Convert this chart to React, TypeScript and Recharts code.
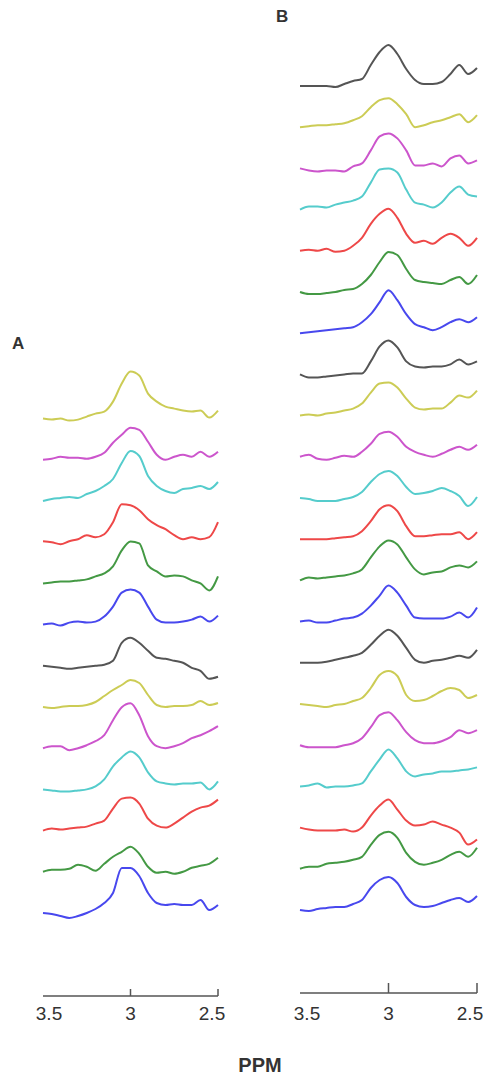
import React from 'react';
import { LineChart, Line, XAxis, YAxis } from 'recharts';

// chemical shift samples, left to right (3.5 -> 2.5 ppm)
const PPM = [3.5, 3.45, 3.4, 3.35, 3.3, 3.25, 3.2, 3.15, 3.1, 3.05, 3.0, 2.95, 2.9, 2.85, 2.8, 2.75, 2.7, 2.65, 2.6, 2.55, 2.5];
const TICKS = [3.5, 3, 2.5];
const TICK_LABELS = ['3.5', '3', '2.5'];

// panel A spectra, top to bottom (intensity above each trace's own baseline)
const A1 = [0, -1, 0, -2, -1, 2, 5, 7, 17, 35, 47, 43, 25, 17, 12, 10, 8, 7, 8, 1, 8];
const A2 = [0, 1, 3, 2, 2, 1, 3, 7, 17, 25, 32, 30, 18, 5, 0, 3, 5, 3, 8, 3, 8];
const A3 = [0, 2, 3, 4, 3, 7, 10, 15, 22, 38, 50, 45, 25, 15, 10, 8, 12, 13, 15, 12, 19];
const A4 = [1, 0, -2, 1, 3, 7, 5, 8, 20, 38, 37, 32, 23, 17, 13, 7, 3, 5, 3, 5, 20];
const A5 = [0, 1, 2, 2, 3, 4, 7, 10, 17, 33, 42, 40, 18, 12, 7, 8, 7, 3, 0, -7, 7];
const A6 = [0, 1, -1, 2, 3, 2, 3, 8, 18, 32, 35, 32, 18, 5, 2, 2, 3, 5, 8, 3, 9];
const A7 = [0, -1, -2, -3, -2, -1, 0, 1, 5, 23, 28, 23, 15, 8, 7, 5, 3, -2, -5, -13, -11];
const A8 = [0, -1, 0, 1, 1, 2, 5, 11, 17, 22, 27, 24, 12, 2, 0, 1, 1, 2, 6, 2, 4];
const A9 = [0, 2, 2, -2, 0, 3, 7, 13, 28, 41, 45, 33, 12, 2, 0, 2, 5, 10, 13, 17, 22];
const A10 = [0, -1, -2, -2, -1, 0, 3, 10, 23, 32, 38, 32, 17, 8, 6, 5, 6, 6, 7, 0, 8];
const A11 = [0, 2, 1, 2, 3, 4, 7, 10, 22, 32, 33, 27, 12, 5, 3, 7, 13, 19, 23, 25, 31];
const A12 = [0, 2, 2, 3, 7, 5, 1, 8, 15, 20, 25, 18, 5, -1, 0, -2, 0, 4, 6, 8, 14];
const A13 = [0, -1, -3, -5, -3, 0, 4, 10, 20, 45, 45, 37, 20, 10, 8, 9, 8, 8, 13, 3, 8];

// panel B spectra, top to bottom
const B1 = [0, 0, 0, 0, -1, 2, 5, 7, 21, 34, 41, 32, 17, 6, 2, 2, 4, 12, 21, 12, 18];
const B2 = [0, 1, 2, 2, 3, 4, 7, 11, 20, 27, 29, 23, 13, 0, 2, 5, 7, 10, 13, 5, 12];
const B3 = [0, -2, -3, -2, -2, -3, 2, 5, 18, 32, 35, 30, 18, 3, 3, 5, 2, 10, 13, 5, 8];
const B4 = [0, 3, 3, 2, 5, 7, 9, 13, 27, 40, 41, 37, 20, 7, 5, 2, 7, 17, 23, 15, 13];
const B5 = [0, 1, 0, 2, -1, 0, 5, 13, 27, 37, 42, 33, 17, 8, 10, 7, 13, 17, 13, 5, 13];
const B6 = [0, -2, -2, -1, 0, 2, 3, 8, 17, 30, 40, 37, 23, 12, 10, 9, 8, 12, 15, 8, 17];
const B7 = [0, 1, 2, 3, 4, 5, 6, 11, 19, 31, 43, 33, 19, 9, 6, 3, 6, 11, 14, 11, 16];
const B8 = [0, -3, -3, -2, -1, 0, 1, 1, 13, 28, 34, 27, 13, 8, 7, 8, 8, 10, 15, 10, 13];
const B9 = [0, 1, 0, 2, 3, 5, 7, 12, 23, 32, 33, 28, 17, 8, 6, 7, 7, 13, 20, 18, 25];
const B10 = [0, 2, -2, -3, -1, 1, 0, 5, 13, 23, 25, 20, 10, 5, 2, 0, 3, 7, 10, 7, 12];
const B11 = [0, -1, -3, -3, -3, -1, 1, 6, 16, 24, 27, 22, 11, 4, 5, 7, 10, 7, 2, -8, 1];
const B12 = [0, 0, 0, 0, 1, 2, 3, 8, 18, 30, 34, 28, 13, 3, 3, 4, 5, 5, 7, 0, 7];
const B13 = [0, 3, 2, 3, 4, 5, 7, 11, 23, 34, 40, 36, 23, 11, 6, 8, 9, 13, 15, 13, 19];
const B14 = [0, 1, -1, -1, 1, 3, 4, 8, 16, 26, 36, 29, 16, 4, 3, 3, 3, 5, 9, 4, 14];
const B15 = [0, 0, 0, 1, 3, 5, 7, 10, 18, 27, 33, 27, 15, 3, 0, 2, 3, 5, 7, 5, 13];
const B16 = [0, -1, -2, -3, -1, 0, 3, 6, 16, 29, 33, 28, 9, 3, 4, 8, 13, 16, 14, 6, 9];
const B17 = [0, -2, -2, -2, -2, 0, 2, 7, 18, 30, 33, 25, 13, 5, 2, 2, 4, 8, 15, 12, 15];
const B18 = [0, 1, 3, -1, 0, 0, 1, 3, 15, 27, 37, 28, 15, 10, 12, 13, 15, 15, 16, 17, 19];
const B19 = [0, -2, -3, -3, -3, -2, -4, 0, 12, 22, 28, 18, 7, 2, 3, 6, 3, 0, -5, -17, -12];
const B20 = [0, 2, 2, 5, 6, 7, 9, 12, 24, 34, 37, 31, 16, 7, 4, 6, 9, 14, 17, 12, 21];
const B21 = [0, -1, 1, 2, 3, 3, 6, 10, 22, 30, 33, 27, 13, 5, 3, 4, 7, 10, 12, 8, 14];

const Y = '#cccc55', M = '#cc55cc', C = '#55cccc', R = '#ee4848', G = '#449944', BL = '#4848ee', K = '#555555';

const A_SERIES = [A1, A2, A3, A4, A5, A6, A7, A8, A9, A10, A11, A12, A13];
const A_COLORS = [Y, M, C, R, G, BL, K, Y, M, C, R, G, BL];
const B_SERIES = [B1, B2, B3, B4, B5, B6, B7, B8, B9, B10, B11, B12, B13, B14, B15, B16, B17, B18, B19, B20, B21];
const B_COLORS = [K, Y, M, C, R, G, BL, K, Y, M, C, R, G, BL, K, Y, M, C, R, G, BL];

// stacking: bottom trace sits BASE above the axis, each next one SPACING higher
const BASE = 83;
const SPACING = 41.2;
const Y_MAX = 976;
const FONT = '"Liberation Sans", Arial, sans-serif';

function buildRows(series: number[][]) {
  const n = series.length;
  return PPM.map((ppm, k) => {
    const row: Record<string, number> = { ppm };
    series.forEach((s, i) => {
      row['s' + i] = s[k] + BASE + SPACING * (n - 1 - i);
    });
    return row;
  });
}

const makeTick = (len: number, labelDy: number, edgeDx: number) => (props: any) => {
  const { x, y, payload } = props;
  const v = payload.value;
  const idx = TICKS.indexOf(v);
  const dx = idx === 0 ? edgeDx : idx === TICKS.length - 1 ? -edgeDx : 0;
  return (
    <g>
      {idx !== 0 && <line x1={x} x2={x} y1={y} y2={y - len} stroke="#555" strokeWidth={1.5} />}
      <text x={x + dx} y={y + labelDy} textAnchor="middle" fontSize={19} fill="#333" fontFamily={FONT}>
        {TICK_LABELS[idx]}
      </text>
    </g>
  );
};

function Panel({ series, colors, left, width, mLeft, mRight, mTop, tick }: any) {
  const rows = buildRows(series);
  return (
    <div style={{ position: 'absolute', left, top: 0 }}>
      <LineChart width={width} height={mTop + Y_MAX + 40} data={rows} margin={{ top: mTop, right: mRight, left: mLeft, bottom: 0 }}>
        <XAxis
          dataKey="ppm"
          type="number"
          domain={[2.5, 3.5]}
          reversed
          ticks={TICKS}
          interval={0}
          height={40}
          tickSize={0}
          tickMargin={0}
          tickLine={false}
          axisLine={{ stroke: '#555', strokeWidth: 1.5 }}
          tick={tick}
        />
        <YAxis type="number" domain={[0, Y_MAX]} hide />
        {series.map((_: number[], i: number) => (
          <Line
            key={i}
            type="monotone"
            dataKey={'s' + i}
            stroke={colors[i]}
            strokeWidth={2}
            dot={false}
            isAnimationActive={false}
          />
        ))}
      </LineChart>
    </div>
  );
}

export default function App() {
  return (
    <div style={{ position: 'absolute', left: 0, top: 0, width: 492, height: 1079, background: '#fff', fontFamily: FONT }}>
      <Panel series={A_SERIES} colors={A_COLORS} left={0} width={240} mLeft={43} mRight={22} mTop={20} tick={makeTick(7, 24, 6)} />
      <Panel series={B_SERIES} colors={B_COLORS} left={250} width={242} mLeft={50} mRight={15} mTop={17} tick={makeTick(10, 27, 7)} />
      <div style={{ position: 'absolute', left: 12, top: 334, fontSize: 17, fontWeight: 'bold', color: '#333' }}>A</div>
      <div style={{ position: 'absolute', left: 276, top: 7, fontSize: 17, fontWeight: 'bold', color: '#333' }}>B</div>
      <div style={{ position: 'absolute', left: 0, width: 520, top: 1054, textAlign: 'center', fontSize: 20, fontWeight: 'bold', color: '#333' }}>PPM</div>
    </div>
  );
}
